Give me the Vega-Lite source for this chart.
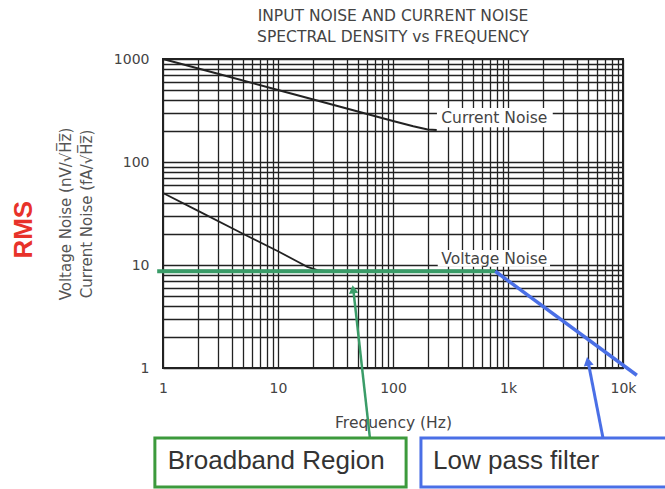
{
  "$schema": "https://vega.github.io/schema/vega-lite/v6.json",
  "width": 460,
  "height": 309,
  "autosize": {"type": "none"},
  "padding": {"left": 163, "top": 59, "right": 42, "bottom": 121},
  "background": "white",
  "config": {"view": {"stroke": "#222", "strokeWidth": 2}, "font": "DejaVu Sans"},
  "title": {
    "text": ["INPUT NOISE AND CURRENT NOISE", "SPECTRAL DENSITY vs FREQUENCY"],
    "fontSize": 15.5, "fontWeight": "normal", "color": "#444", "font": "DejaVu Sans",
    "lineHeight": 21, "offset": 7, "anchor": "middle"
  },
  "datasets": {
    "current": [
      {"f": 1, "v": 1000}, {"f": 3, "v": 720}, {"f": 10, "v": 500}, {"f": 30, "v": 360},
      {"f": 100, "v": 250}, {"f": 150, "v": 222}, {"f": 200, "v": 207}, {"f": 240, "v": 205}
    ],
    "voltage": [
      {"f": 1, "v": 50}, {"f": 2, "v": 33.7}, {"f": 5, "v": 20}, {"f": 10, "v": 13.6},
      {"f": 15, "v": 10.7}, {"f": 18, "v": 9.6}, {"f": 22, "v": 8.9}, {"f": 30, "v": 8.6}, {"f": 100, "v": 8.6}, {"f": 700, "v": 8.6}
    ],
    "labelbg": [
      {"f": 241, "f2": 2450, "v": 218, "v2": 334},
      {"f": 245, "f2": 2320, "v": 9.6, "v2": 14}
    ],
    "labels": [
      {"f": 760, "v": 267, "label": "Current Noise"},
      {"f": 760, "v": 11.5, "label": "Voltage Noise"}
    ],
    "broadband": [{"f": 0.89, "v": 8.7}, {"f": 775, "v": 8.7}],
    "lowpass": [{"f": 775, "v": 8.7}, {"f": 13200, "v": 0.85}],
    "garrow": [{"f": 63, "v": 0.209}, {"f": 45, "v": 6.0}],
    "gtip": [{"f": 45, "v": 5.8}],
    "barrow": [{"f": 6700, "v": 0.209}, {"f": 4950, "v": 1.18}],
    "btip": [{"f": 4950, "v": 1.16}],
    "gbox": [{"f": 0.85, "f2": 130, "v": 0.209, "v2": 0.07, "label": "Broadband Region", "tf": 1.1, "tv": 0.105}],
    "bbox": [{"f": 175, "f2": 40000, "v": 0.209, "v2": 0.07, "label": "Low pass filter", "tf": 223, "tv": 0.105}],
    "rms": [{"f": 0.062, "v": 22, "label": "RMS"}]
  },
  "encoding": {
    "x": {
      "field": "f", "type": "quantitative",
      "scale": {"type": "log", "domain": [1, 10000], "nice": false},
      "axis": {
        "values": [1,2,3,4,5,6,7,8,9,10,20,30,40,50,60,70,80,90,100,200,300,400,500,600,700,800,900,1000,2000,3000,4000,5000,6000,7000,8000,9000,10000],
        "labelExpr": "datum.value == 1 ? '1' : datum.value == 10 ? '10' : datum.value == 100 ? '100' : datum.value == 1000 ? '1k' : datum.value == 10000 ? '10k' : ''",
        "title": "Frequency (Hz)",
        "grid": true, "gridColor": "#222", "gridWidth": 1.3,
        "ticks": false, "domain": false,
        "labelPadding": 13, "labelFontSize": 14, "labelColor": "#444", "labelFont": "DejaVu Sans",
        "labelOverlap": false, "labelFlush": false, "labelBound": false,
        "titleFontSize": 15.5, "titleFontWeight": "normal", "titleColor": "#444", "titleFont": "DejaVu Sans",
        "titlePadding": 20
      }
    },
    "y": {
      "field": "v", "type": "quantitative",
      "scale": {"type": "log", "domain": [1, 1000], "nice": false},
      "axis": {
        "values": [1,2,3,4,5,6,7,8,9,10,20,30,40,50,60,70,80,90,100,200,300,400,500,600,700,800,900,1000],
        "labelExpr": "datum.value == 1 ? '1' : datum.value == 10 ? '10' : datum.value == 100 ? '100' : datum.value == 1000 ? '1000' : ''",
        "title": ["Voltage Noise (nV/√H\u0305z\u0305)", "Current Noise (fA/√H\u0305z\u0305)"],
        "grid": true, "gridColor": "#222", "gridWidth": 1.3,
        "ticks": false, "domain": false,
        "labelPadding": 14, "labelFontSize": 14, "labelColor": "#444", "labelFont": "DejaVu Sans",
        "labelOverlap": false, "labelFlush": false, "labelBound": false,
        "titleFontSize": 15, "titleFontWeight": "normal", "titleColor": "#555", "titleFont": "DejaVu Sans",
        "titleLineHeight": 21, "titlePadding": 19
      }
    }
  },
  "layer": [
    {"data": {"name": "current"}, "mark": {"type": "line", "color": "#222", "strokeWidth": 2}},
    {"data": {"name": "voltage"}, "mark": {"type": "line", "color": "#222", "strokeWidth": 1.8}},
    {"data": {"name": "labelbg"}, "mark": {"type": "rect", "fill": "white", "stroke": null},
     "encoding": {"x2": {"field": "f2"}, "y2": {"field": "v2"}}},
    {"data": {"name": "labels"}, "mark": {"type": "text", "fontSize": 15.5, "color": "#444", "font": "DejaVu Sans", "align": "center", "baseline": "middle"},
     "encoding": {"text": {"field": "label"}}},
    {"data": {"name": "broadband"}, "mark": {"type": "line", "color": "#3a9c68", "strokeWidth": 4}},
    {"data": {"name": "lowpass"}, "mark": {"type": "line", "color": "#4a6fe6", "strokeWidth": 3.5}},
    {"data": {"name": "garrow"}, "mark": {"type": "line", "color": "#3a9c68", "strokeWidth": 2.5}},
    {"data": {"name": "gtip"}, "mark": {"type": "point", "shape": "triangle-up", "filled": true, "color": "#3a9c68", "size": 90, "opacity": 1, "angle": -7}},
    {"data": {"name": "barrow"}, "mark": {"type": "line", "color": "#4a6fe6", "strokeWidth": 3}},
    {"data": {"name": "btip"}, "mark": {"type": "point", "shape": "triangle-up", "filled": true, "color": "#4a6fe6", "size": 100, "opacity": 1, "angle": -11}},
    {"data": {"name": "gbox"}, "mark": {"type": "rect", "fill": "white", "stroke": "#3c9a3c", "strokeWidth": 3},
     "encoding": {"x2": {"field": "f2"}, "y2": {"field": "v2"}}},
    {"data": {"name": "gbox"}, "mark": {"type": "text", "fontSize": 26, "color": "#333", "font": "Liberation Sans", "align": "left", "baseline": "alphabetic"},
     "encoding": {"x": {"field": "tf", "type": "quantitative"}, "y": {"field": "tv", "type": "quantitative"}, "text": {"field": "label"}}},
    {"data": {"name": "bbox"}, "mark": {"type": "rect", "fill": "white", "stroke": "#4a6fe6", "strokeWidth": 3},
     "encoding": {"x2": {"field": "f2"}, "y2": {"field": "v2"}}},
    {"data": {"name": "bbox"}, "mark": {"type": "text", "fontSize": 26, "color": "#333", "font": "Liberation Sans", "align": "left", "baseline": "alphabetic"},
     "encoding": {"x": {"field": "tf", "type": "quantitative"}, "y": {"field": "tv", "type": "quantitative"}, "text": {"field": "label"}}},
    {"data": {"name": "rms"}, "mark": {"type": "text", "fontSize": 26, "fontWeight": "bold", "color": "#e8322a", "font": "Liberation Sans", "align": "center", "baseline": "middle", "angle": 270},
     "encoding": {"text": {"field": "label"}}}
  ]
}
